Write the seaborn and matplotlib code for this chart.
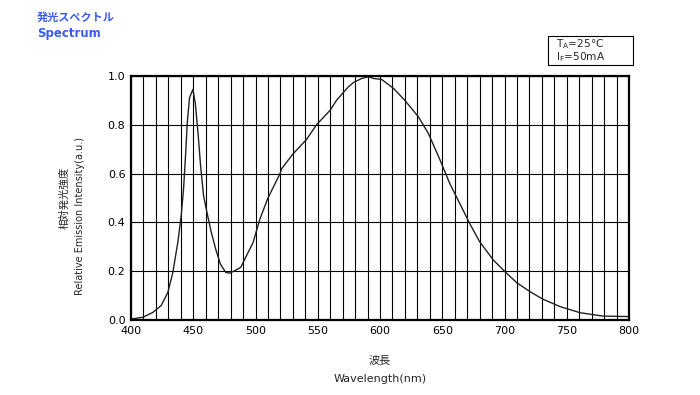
import matplotlib
matplotlib.use("Agg")
import matplotlib.pyplot as plt
from matplotlib.patches import Rectangle
import seaborn as sns
import pandas as pd
import numpy as np

# Data
wavelength = [400, 409.4, 417.5, 424.2, 429.6, 433.6, 437.6, 440.3, 442.2, 443.8, 445.2,
              447, 449.7, 451.6, 453.8, 455.9, 458.3, 461, 464.5, 468, 471.8, 476.1,
              479.3, 483.3, 488.2, 492.7, 498.1, 503.5, 510, 519.7, 521, 530, 541,
              549, 560, 565, 574.5, 578.6, 585.3, 591, 594.6, 601.3, 610.7, 620, 630.8,
              638.8, 648.2, 656, 664, 672, 680, 691, 700.4, 709.8, 720.5, 731, 744.6,
              760.6, 779, 800]
intensity = [0.004, 0.011, 0.031, 0.059, 0.113, 0.195, 0.318, 0.427, 0.536, 0.673, 0.809,
             0.911, 0.945, 0.891, 0.768, 0.632, 0.509, 0.441, 0.359, 0.291, 0.229, 0.195,
             0.192, 0.202, 0.216, 0.263, 0.318, 0.413, 0.5, 0.6, 0.62, 0.68, 0.74,
             0.8, 0.86, 0.9, 0.955, 0.973, 0.99, 0.997, 0.99, 0.986, 0.95, 0.90, 0.833,
             0.765, 0.656, 0.56, 0.478, 0.396, 0.321, 0.246, 0.198, 0.153, 0.116, 0.085,
             0.055, 0.03, 0.016, 0.014]
x_ticks = [400, 450, 500, 550, 600, 650, 700, 750, 800]
y_ticks = [0.0, 0.2, 0.4, 0.6, 0.8, 1.0]

df = pd.DataFrame({"wl": wavelength, "val": intensity})

sns.set_theme(style="white")
plt.rcParams['font.family'] = ['Noto Sans CJK JP', 'DejaVu Sans']

fig = plt.figure(figsize=(7.0, 3.95), dpi=100)
ax = fig.add_axes([131/700, 1 - 320/395, (629-131)/700, (320-76)/395])

sns.lineplot(data=df, x="wl", y="val", ax=ax, color="#222222", linewidth=1.0)

ax.set_xlim(400, 800)
ax.set_ylim(0, 1.0)
ax.set_xticks(x_ticks)
ax.set_xticklabels([str(t) for t in x_ticks], fontsize=8, family='DejaVu Sans')
ax.set_yticks(y_ticks)
ax.set_yticklabels([f"{t:.1f}" for t in y_ticks], fontsize=8, family='DejaVu Sans')
ax.set_xticks(np.arange(400, 801, 10), minor=True)
ax.grid(True, which='major', color='black', linewidth=0.8)
ax.grid(True, which='minor', axis='x', color='black', linewidth=0.8)
ax.tick_params(axis='both', which='both', length=0, pad=4, colors='black')
for s in ax.spines.values():
    s.set_color('black')
    s.set_linewidth(1.6)
ax.set_xlabel("")
ax.set_ylabel("")

# Titles
blue = "#3a5cf0"
fig.text(37/700, 1 - 17/395, "発光スペクトル", color=blue, fontsize=8, fontweight='bold', va='center', ha='left')
fig.text(37/700, 1 - 33/395, "Spectrum", color=blue, fontsize=8.5, fontweight='bold', va='center', ha='left', family='DejaVu Sans')

# Axis labels
fig.text(64/700, 1 - 198/395, "相対発光強度", rotation=90, fontsize=7.5, va='center', ha='center')
fig.text(80/700, 1 - 216/395, "Relative Emission Intensity(a.u.)", rotation=90, fontsize=7,
         va='center', ha='center', family='DejaVu Sans')
fig.text(380/700, 1 - 360/395, "波長", fontsize=8, va='center', ha='center')
fig.text(380/700, 1 - 379/395, "Wavelength(nm)", fontsize=8, va='center', ha='center', family='DejaVu Sans')

# Condition box
fig.patches.append(Rectangle((548/700, 1 - 65/395), 85/700, 29/395, transform=fig.transFigure,
                             facecolor='white', edgecolor='black', linewidth=0.8, figure=fig))
fig.text(556/700, 1 - 44/395, "T$_\\mathregular{A}$=25°C", fontsize=7.6,
         va='center', ha='left', family='DejaVu Sans')
fig.text(556/700, 1 - 57.5/395, "I$_\\mathregular{F}$=50mA", fontsize=7.6,
         va='center', ha='left', family='DejaVu Sans')

fig.savefig("out.png", dpi=100)
